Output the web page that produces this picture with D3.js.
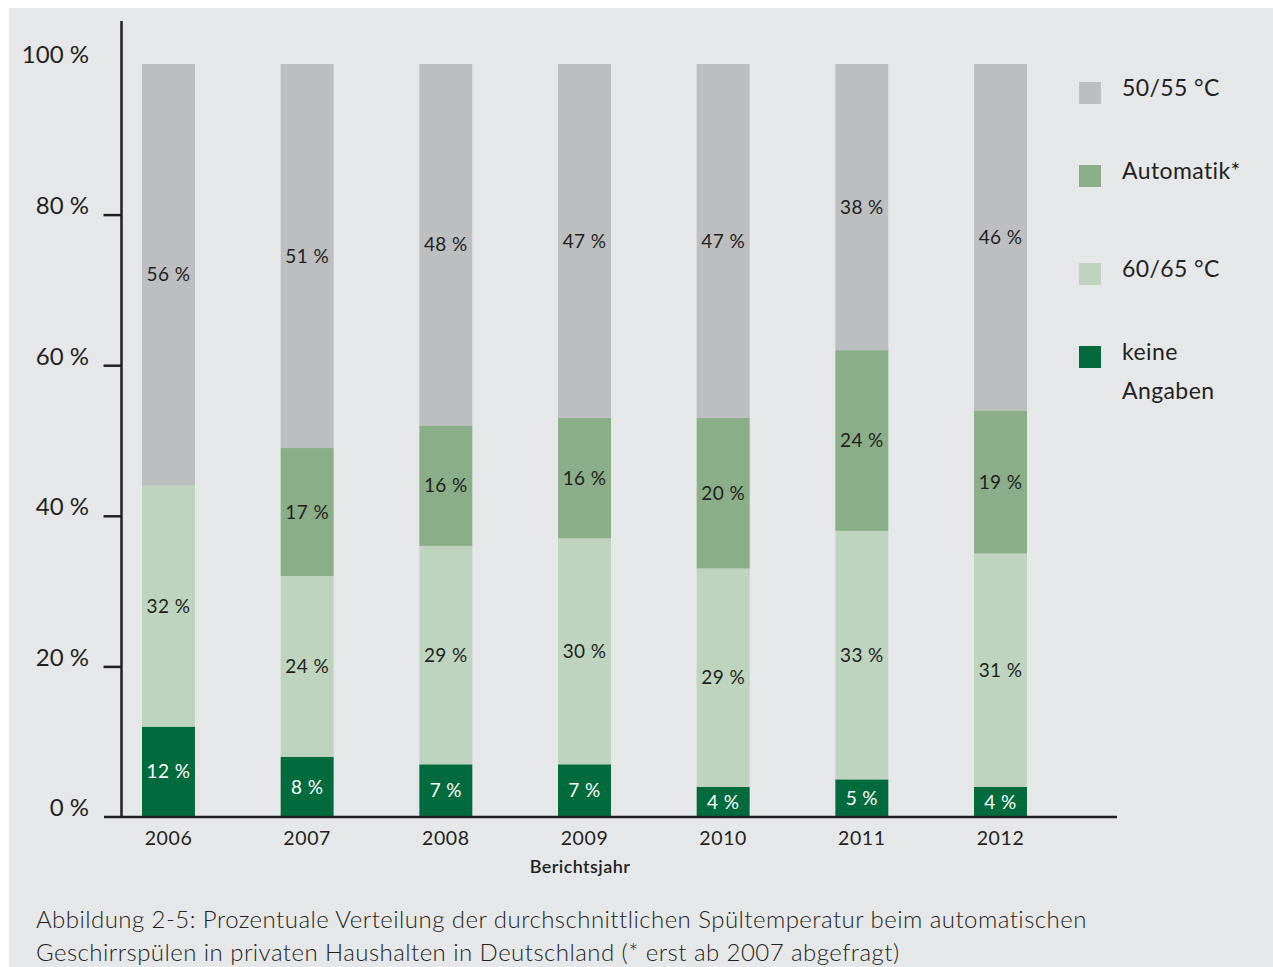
<!DOCTYPE html>
<html lang="de">
<head>
<meta charset="utf-8">
<script src="https://cdn.jsdelivr.net/npm/d3@7"></script>
<style>
  html, body { margin: 0; padding: 0; background: #ffffff; }
  svg { display: block; }
  text { font-family: Lato, "Open Sans", sans-serif; fill: #231f20; }
</style>
</head>
<body>
<svg id="chart" width="1273" height="967"></svg>
<script>
// Berichtsjahre
const years = ["2006", "2007", "2008", "2009", "2010", "2011", "2012"];
// Anteile je Temperaturwahl (Prozent), von unten nach oben gestapelt
const keineAngaben = [12, 8, 7, 7, 4, 5, 4];
const temp6065 = [32, 24, 29, 30, 29, 33, 31];
const automatik = [0, 17, 16, 16, 20, 24, 19];
const temp5055 = [56, 51, 48, 47, 47, 38, 46];
// Achsenbeschriftungen
const yTicks = [0, 20, 40, 60, 80, 100];
const yTickMarks = [20, 40, 60, 80];
const seriesNames = ["keine Angaben", "60/65 °C", "Automatik*", "50/55 °C"];
const seriesColors = ["#016b3d", "#bed4bf", "#8aae87", "#bdbec0"];
const legendOrder = ["50/55 °C", "Automatik*", "60/65 °C", "keine Angaben"];

const svg = d3.select("#chart");

// Hintergrundfläche
svg.append("rect")
  .attr("x", 9).attr("y", 8)
  .attr("width", 1264).attr("height", 959)
  .attr("fill", "#e6e7e9");

const x = d3.scaleBand().domain(years).range([142, 1027]).paddingInner(0.618).paddingOuter(0);
const y = d3.scaleLinear().domain([0, 100]).range([817, 64]);

const keys = ["keine", "t6065", "auto", "t5055"];
const rows = years.map((yr, i) => ({
  year: yr, keine: keineAngaben[i], t6065: temp6065[i], auto: automatik[i], t5055: temp5055[i]
}));
const stacked = d3.stack().keys(keys)(rows);

// Balken
const layers = svg.append("g").selectAll("g")
  .data(stacked).join("g")
  .attr("fill", (d, i) => seriesColors[i]);

layers.selectAll("rect")
  .data(d => d.filter(s => s[1] - s[0] > 0))
  .join("rect")
  .attr("x", d => x(d.data.year))
  .attr("width", x.bandwidth())
  .attr("y", d => y(d[1]))
  .attr("height", d => y(d[0]) - y(d[1]));

// Werte in den Segmenten
stacked.forEach((layer, li) => {
  svg.append("g").selectAll("text")
    .data(layer.filter(s => s[1] - s[0] > 0))
    .join("text")
    .attr("x", d => x(d.data.year) + x.bandwidth() / 2)
    .attr("y", d => (y(d[0]) + y(d[1])) / 2)
    .attr("dy", "0.35em")
    .attr("text-anchor", "middle")
    .style("font-size", "19px")
    .style("letter-spacing", "0.4px")
    .style("fill", li === 0 ? "#ffffff" : "#231f20")
    .text(d => (d[1] - d[0]) + " %");
});

// y-Achse
const yAxis = d3.axisLeft(y).tickValues(yTickMarks).tickSize(18).tickFormat("");
const gy = svg.append("g").attr("transform", "translate(121.5,0)").call(yAxis);
gy.select(".domain").remove();
gy.selectAll(".tick line").attr("stroke", "#231f20").attr("stroke-width", 2.5);
svg.append("line")
  .attr("x1", 121.5).attr("x2", 121.5)
  .attr("y1", 21).attr("y2", y(0) + 1)
  .attr("stroke", "#231f20").attr("stroke-width", 2.5);

svg.append("g").selectAll("text")
  .data(yTicks).join("text")
  .attr("x", 89)
  .attr("y", d => y(d) - 9)
  .attr("dy", "0.35em")
  .attr("text-anchor", "end")
  .style("font-size", "24px")
  .text(d => d + " %");

// x-Achse
const xAxis = d3.axisBottom(x).tickSize(0).tickPadding(14);
const gx = svg.append("g").attr("transform", `translate(0,${y(0)})`).call(xAxis);
gx.select(".domain").remove();
gx.selectAll(".tick text")
  .style("font-family", "Lato, 'Open Sans', sans-serif")
  .style("font-size", "19.5px")
  .style("letter-spacing", "0.6px")
  .attr("fill", "#231f20");
svg.append("line")
  .attr("x1", 104).attr("x2", 1117)
  .attr("y1", y(0)).attr("y2", y(0))
  .attr("stroke", "#231f20").attr("stroke-width", 2.5);

svg.append("text")
  .attr("x", 580).attr("y", 873)
  .attr("text-anchor", "middle")
  .style("font-size", "18px")
  .style("font-weight", 600)
  .style("letter-spacing", "0.4px")
  .text("Berichtsjahr");

// Legende
const legendY = [93, 176, 274, 357];
const legend = svg.append("g").selectAll("g")
  .data(legendOrder).join("g")
  .attr("transform", (d, i) => `translate(1079,${legendY[i]})`);
legend.append("rect")
  .attr("x", 0).attr("y", -11)
  .attr("width", 22).attr("height", 22)
  .attr("fill", d => seriesColors[seriesNames.indexOf(d)]);
legend.each(function (d) {
  const g = d3.select(this);
  const lines = d === "keine Angaben" ? ["keine", "Angaben"] : [d];
  lines.forEach((t, j) => {
    g.append("text")
      .attr("x", 43)
      .attr("y", -5 + j * 39)
      .attr("dy", "0.35em")
      .style("font-size", "23px")
      .style("letter-spacing", "0.4px")
      .text(t);
  });
});

// Bildunterschrift
const caption = [
  "Abbildung 2-5: Prozentuale Verteilung der durchschnittlichen Spültemperatur beim automatischen",
  "Geschirrspülen in privaten Haushalten in Deutschland (* erst ab 2007 abgefragt)"
];
svg.append("g").selectAll("text")
  .data(caption).join("text")
  .attr("x", 36)
  .attr("y", (d, i) => 928 + i * 33)
  .style("font-size", "24px")
  .style("font-weight", 300)
  .style("letter-spacing", "0.45px")
  .text(d => d);
</script>
</body>
</html>
